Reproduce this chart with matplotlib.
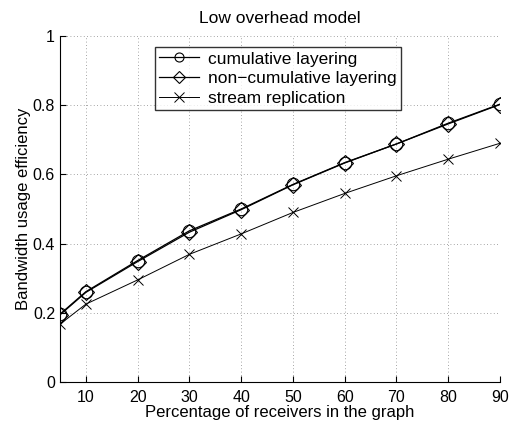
import matplotlib
matplotlib.use("Agg")
import matplotlib.pyplot as plt

plt.rcParams['font.family'] = ['Liberation Sans', 'DejaVu Sans']

receivers = [5, 10, 20, 30, 40, 50, 60, 70, 80, 90]
cumulative = [0.196, 0.261, 0.351, 0.437, 0.500, 0.571, 0.634, 0.688, 0.748, 0.803]
non_cumulative = [0.194, 0.259, 0.348, 0.433, 0.498, 0.570, 0.633, 0.688, 0.746, 0.802]
replication = [0.167, 0.225, 0.295, 0.369, 0.428, 0.490, 0.545, 0.596, 0.644, 0.690]
xticks = [10, 20, 30, 40, 50, 60, 70, 80, 90]
yticks = [0, 0.2, 0.4, 0.6, 0.8, 1]
ytick_labels = ['0', '0.2', '0.4', '0.6', '0.8', '1']

fig = plt.figure(figsize=(5.18, 4.28), dpi=100)
ax = fig.add_axes([0.1158, 0.1075, 0.8495, 0.8084])

ax.plot(receivers, cumulative, color='black', lw=0.9, marker='o', ms=9,
        mfc='none', mec='black', mew=0.8, label='cumulative layering')
ax.plot(receivers, non_cumulative, color='black', lw=0.9, marker='D', ms=8,
        mfc='none', mec='black', mew=0.8, label='non\u2212cumulative layering')
ax.plot(receivers, replication, color='black', lw=0.7, marker='x', ms=7,
        mec='black', mew=0.7, label='stream replication')

ax.set_xlim(5, 90)
ax.set_ylim(0, 1)
ax.set_xticks(xticks)
ax.set_yticks(yticks)
ax.set_yticklabels(ytick_labels)
ax.grid(True, linestyle=(0, (1, 3)), color='#888888', linewidth=0.6)
ax.tick_params(direction='in', length=4, labelsize=11.5, width=0.8)
ax.tick_params(axis='x', pad=6)
for side in ('top', 'right'):
    ax.spines[side].set_visible(False)
for side in ('left', 'bottom'):
    ax.spines[side].set_linewidth(0.8)

ax.set_xlabel('Percentage of receivers in the graph', fontsize=12, labelpad=0)
ax.set_ylabel('Bandwidth usage efficiency', fontsize=12, labelpad=1)
ax.set_title('Low overhead model', fontsize=12.5, pad=9)

leg = ax.legend(loc='upper left', bbox_to_anchor=(0.216, 0.968), fontsize=12.5,
                frameon=True, fancybox=False, edgecolor='black',
                borderpad=0.25, labelspacing=0.26, handlelength=2.3,
                handletextpad=0.5, borderaxespad=0)
leg.get_frame().set_linewidth(1.0)
for h in leg.legend_handles:
    h.set_markersize(6.5)

fig.savefig('out.png', dpi=100)
